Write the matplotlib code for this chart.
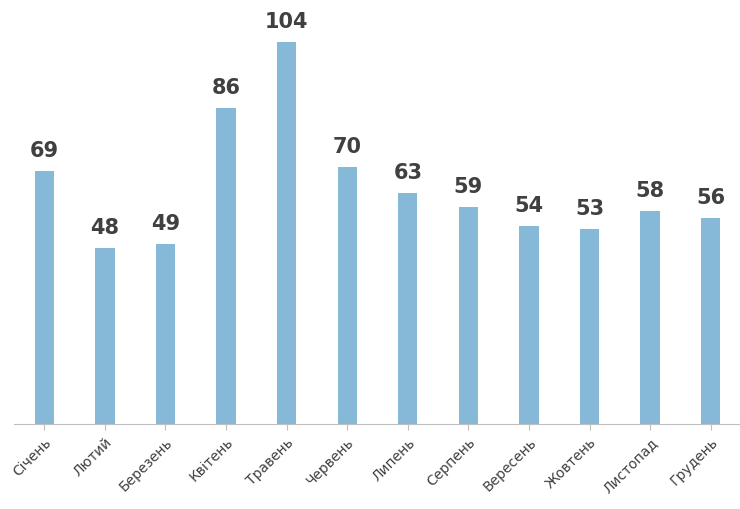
import matplotlib
matplotlib.use("Agg")
import matplotlib.pyplot as plt

months = ["Січень","Лютий","Березень","Квітень","Травень","Червень","Липень","Серпень","Вересень","Жовтень","Листопад","Грудень"]
values = [69,48,49,86,104,70,63,59,54,53,58,56]

fig = plt.figure(figsize=(7.4,5.1), dpi=100)
ax = fig.add_axes([14/740, 85/510, 727/740, 425/510])
x = range(len(months))
ax.bar(x, values, width=0.32, color="#86b8d7")
for i, v in enumerate(values):
    ax.text(i, v+3, str(v), ha="center", va="bottom", fontsize=15, fontweight="bold", color="#404040")
ax.set_xlim(-0.5, 11.5)
ax.set_ylim(0, 115.8)
ax.set_xticks(list(x))
ax.set_xticklabels(months, rotation=45, ha="right", rotation_mode="anchor", fontsize=10, color="#404040")
ax.tick_params(axis="x", length=4, color="#bfbfbf")
ax.set_yticks([])
for s in ["top","right","left"]:
    ax.spines[s].set_visible(False)
ax.spines["bottom"].set_color("#bfbfbf")
fig.savefig("out.png", dpi=100)
